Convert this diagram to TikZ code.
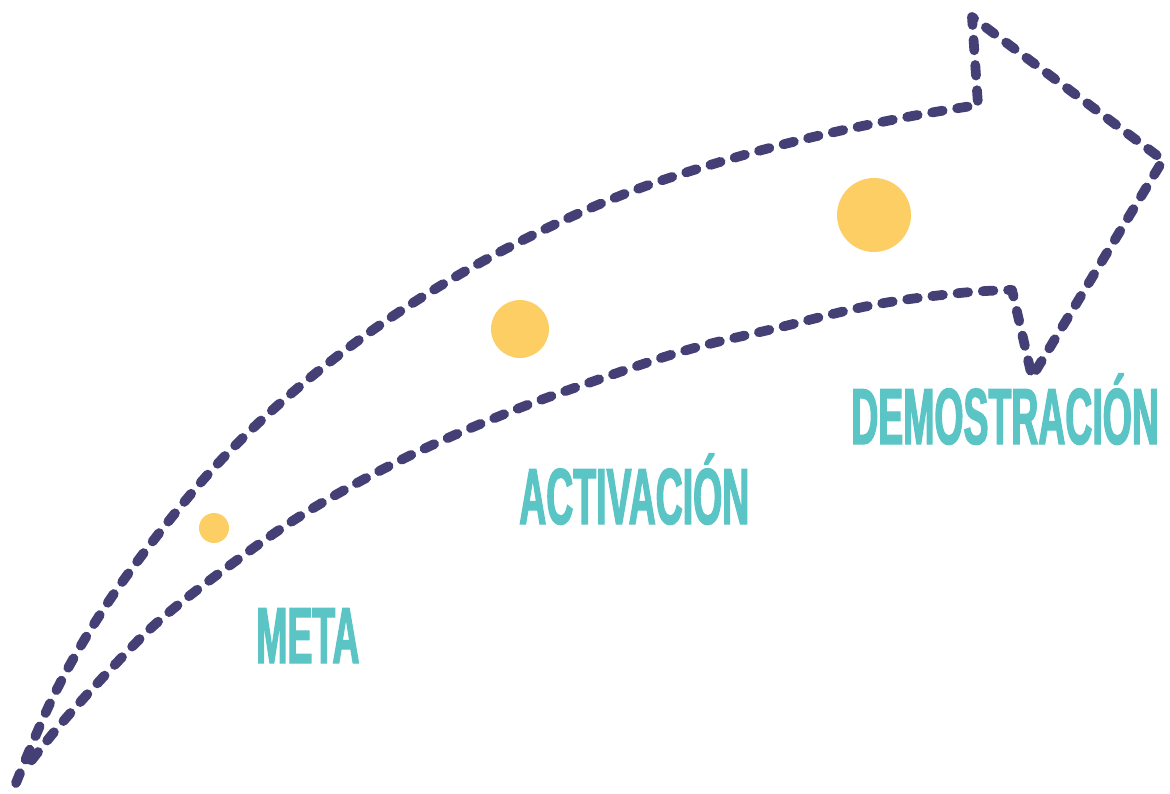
\documentclass[tikz,border=0pt]{standalone}
\usepackage{fontspec}
\newfontfamily\stagefont{Liberation Sans}[FakeStretch=0.47,FakeBold=1.5]
\definecolor{route}{HTML}{443F75}
\definecolor{stagetext}{HTML}{5BC4C5}
\definecolor{milestone}{HTML}{FCCE63}
\begin{document}
\begin{tikzpicture}[x=0.75pt,y=-0.75pt,
  dashroute/.style={draw=route,line width=7.3pt,line cap=round,line join=round,
    dash pattern=on 8pt off 11pt},
  stagelabel/.style={anchor=base west,inner sep=0pt,text=stagetext,
    font=\stagefont\bfseries\fontsize{59.7}{60}\selectfont},
  dot/.style={fill=milestone,draw=none}]
\useasboundingbox (0,0) rectangle (1170,793);

% milestones along the route
\fill[dot] (214,528) circle (15);
\fill[dot] (520,329) circle (29);
\fill[dot] (874,215) circle (37);

% dashed outline of the curved arrow
\draw[dashroute] plot[smooth,tension=0.6] coordinates {
    (16,783) (55,693) (103,610) (160,532) (223,458) (293,392) (370,332)
    (450,280) (537,233) (627,193) (720,162) (813,137) (907,117) (978,105)}
  -- (972,17) -- (1163,160) -- (1032,377)
  -- plot[smooth,tension=0.6] coordinates {
    (1012,290) (960,293) (873,305) (777,328) (687,350) (597,380) (507,413)
    (407,457) (310,510) (233,563) (160,620) (108,672) (60,725) (28,765)};

% stage labels
\node[stagelabel] (meta) at (256,663) {META};
\node[stagelabel] (activacion) at (519,524) {ACTIVACIÓN};
\node[stagelabel] (demostracion) at (851,444) {DEMOSTRACIÓN};
\end{tikzpicture}
\end{document}
